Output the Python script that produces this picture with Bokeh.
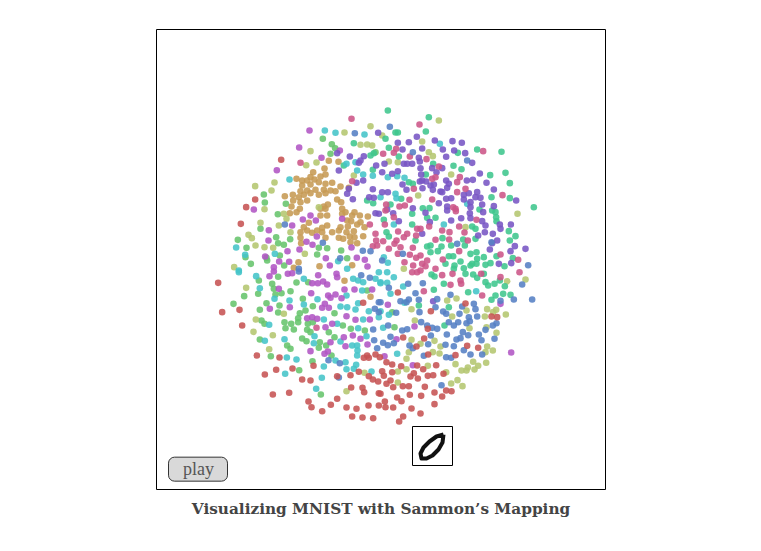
from bokeh.plotting import figure
from bokeh.models import Range1d
from bokeh.core.properties import value
from bokeh.embed import file_html
from bokeh.resources import INLINE

# Embedding values per digit class.
# Units are thirds of a pixel; each panel (nw, ne, sw, se) is 510 units wide.
red_nw = [(212,178),(134,297),(107,320),(91,370)]
red_sw = [(23,37),(35,125),(87,118),(95,165),(139,255),(207,261),(163,312),(197,298),(246,294),(309,286),(275,327),(300,330),(187,372),(236,367),(294,393),(303,410),(335,422),(361,403),(380,385),(408,411),(438,415),(474,405),(505,405),(425,438),(456,441),(488,443),(422,351),(456,352),(461,365),(445,304),(420,314),(380,317),(475,317),(487,327),(503,333),(505,368),(458,97),(470,255),(460,262),(475,262),(495,252),(508,260)]
red_se = [(52,66),(255,99),(151,122),(333,138),(350,140),(142,175),(68,201),(131,204),(108,228),(260,226),(293,232),(143,252),(225,254),(18,275),(35,282),(62,287),(110,285),(128,296),(167,284),(5,302),(10,316),(35,305),(100,308),(90,318),(112,324),(142,316),(158,314),(189,310),(30,330),(18,340),(38,350),(67,347),(85,347),(133,349),(197,360),(213,362),(162,366),(185,378),(122,376),(88,373),(50,381),(63,392),(13,393),(15,410),(38,411),(93,414),(162,401),(120,429),(68,438),(56,453),(0,370)]

tan_nw = [(355,181),(384,184),(342,204),(308,215),(345,222),(258,235),(275,240),(300,230),(330,228),(290,240),(312,237),(365,247),(275,255),(300,252),(325,245),(345,250),(390,258),(270,272),(290,270),(315,268),(340,268),(360,270),(375,272),(223,287),(247,283),(265,290),(280,283),(300,278),(325,283),(345,278),(415,262),(248,300),(290,300),(270,305),(340,318),(352,312),(380,297),(392,305),(243,318),(238,338),(268,325),(258,335),(330,325),(345,325),(395,325),(405,335),(425,345),(432,335),(448,345),(472,348),(350,345),(330,345),(395,340),(410,360),(422,362),(450,365),(390,380),(412,378),(440,372),(462,380),(350,375),(335,382),(320,390),(295,367),(280,380),(290,390),(270,395),(365,395),(385,390),(408,395),(430,392),(305,397),(335,395),(270,412),(272,428),(458,407),(418,408),(432,410),(420,425),(440,428),(345,412),(385,412),(398,415),(264,485),(250,502),(327,497),(425,494)]
tan_sw = [(402,31),(480,79)]

olive_nw = [(480,77),(402,96),(300,152),(287,194),(318,186),(134,257),(192,246),(183,270),(162,326),(150,367),(205,375),(228,355),(220,340),(325,320),(114,403),(124,413),(71,500),(135,435),(162,440),(188,442),(283,460),(240,395),(430,225),(450,133),(470,132),(485,135)]
olive_ne = [(175,60),(125,123),(145,155),(157,167),(25,183),(52,185),(212,222),(113,285),(411,340),(255,380),(5,105),(70,505)]
olive_sw = [(107,52),(136,147),(129,184),(187,194),(176,236),(220,130),(408,362),(462,307)]
olive_se = [(380,32),(435,27),(228,84),(200,90),(93,116),(320,116),(347,118),(338,125),(258,120),(376,132),(313,138),(215,138),(103,150),(267,173),(318,170),(348,187),(93,208),(120,220),(162,211),(180,228),(85,245),(157,245),(177,249),(78,265),(320,228),(337,240),(315,245),(278,274),(317,277),(225,281),(293,286),(282,297),(243,300),(262,291),(258,300),(78,296),(142,286),(197,305),(52,303),(52,336),(231,329),(212,339),(246,347)]

green_nw = [(337,115),(364,131),(374,143),(360,160),(160,282),(163,306),(226,310),(202,341),(150,385),(197,410),(203,428),(220,433),(239,416),(82,418),(108,442),(105,470),(121,490),(170,480),(168,472),(208,465),(221,495),(320,462),(325,442),(350,443),(392,450),(410,473),(495,155)]
green_sw = [(69,100),(101,77),(143,70),(145,30),(185,40),(190,55),(195,72),(213,68),(240,62),(168,98),(148,118),(207,105),(203,126),(277,85),(307,107),(285,120),(268,128),(263,143),(263,155),(222,155),(242,160),(225,173),(250,177),(153,150),(162,160),(292,160),(290,178),(300,185),(307,155),(372,128),(397,165),(355,185),(372,200),(421,175),(463,180),(275,204),(288,212),(328,215),(347,225),(325,232),(148,207),(230,225),(240,235),(181,257),(363,255),(306,272),(266,299),(331,372),(470,60),(258,36),(293,35),(203,19)]
green_se = [(35,125),(42,170)]

teal_nw = [(430,128),(490,158),(480,165),(400,195),(470,300),(488,308),(487,208)]
teal_ne = [(22,30),(145,50),(136,93),(45,96),(52,96),(15,115),(25,142),(290,147),(363,154),(232,157),(55,168),(158,190),(219,196),(243,206),(329,224),(375,217),(388,248),(136,222),(333,290),(388,293),(460,320),(297,327),(127,323),(147,323),(95,340),(165,352),(335,330),(345,335),(347,350),(348,362),(95,372),(385,392),(405,407),(388,420),(186,413),(212,435),(248,417),(285,415),(253,435),(140,438),(150,435),(183,438),(172,452),(150,455),(288,455),(270,460),(205,467),(218,467),(310,470),(290,475),(348,467),(397,473),(195,490),(240,483),(222,495),(275,490),(288,490),(315,493),(330,488),(372,497),(220,505),(250,503),(270,495),(18,395),(25,408),(105,420),(30,312),(10,358),(140,352),(62,295),(97,250),(85,245),(285,385),(275,378)]
teal_se = [(153,12),(162,18),(255,10),(278,12),(310,10),(290,22),(315,35),(323,45),(342,40),(358,30),(373,47),(345,75),(333,88),(368,70),(390,73),(263,65),(160,58),(190,40),(115,105),(205,110),(192,165)]

cyan_nw = [(343,90),(375,97),(462,102),(237,237),(408,190),(435,185),(77,441),(104,463),(193,460),(440,210),(458,222),(487,226),(383,482),(410,505),(85,510)]
cyan_ne = [(178,130),(22,230),(50,227),(72,232),(45,280),(48,293),(260,310),(40,372),(190,372),(22,487),(10,470),(0,290)]
cyan_sw = [(85,5),(137,17),(148,53),(192,85),(237,90),(280,102),(321,86),(176,163),(340,147),(380,160),(312,197),(163,211),(222,206),(310,218),(390,213),(425,225),(440,225),(441,240),(440,255),(229,261),(258,267),(340,288),(375,270),(405,275),(437,283),(408,296),(430,295),(483,303),(224,310),(334,322),(317,355),(390,108),(410,110),(435,117),(443,98),(475,122),(458,147),(443,173),(468,197),(505,140),(428,25),(443,30),(458,35),(455,60),(495,25),(510,35),(280,25),(505,5),(408,75)]
cyan_se = [(20,5),(40,20),(0,38),(20,37),(68,48),(30,70),(72,97),(0,122),(25,133),(8,172),(50,250),(287,62)]

blue_nw = [(433,98),(223,372),(337,427),(389,473),(457,451),(480,452),(265,505)]
blue_ne = [(28,79),(97,155),(260,180),(230,430),(443,494),(5,480),(333,425),(67,460)]
blue_sw = [(452,14),(478,22),(265,3),(505,95),(493,115),(505,125),(488,177),(491,209),(500,233),(354,269),(388,278),(385,321)]
blue_se = [(25,52),(83,40),(127,38),(105,68),(60,92),(78,95),(85,87),(115,88),(170,86),(210,73),(425,42),(455,87),(400,87),(360,91),(280,100),(285,116),(245,108),(165,110),(47,127),(117,125),(0,95),(188,123),(197,130),(237,130),(290,138),(205,155),(220,165),(233,155),(258,158),(268,152),(265,140),(337,165),(348,158),(315,178),(295,192),(263,194),(247,185),(199,192),(155,172),(170,175),(122,155),(140,165),(23,165),(65,180),(80,176),(30,199),(151,195),(8,217),(22,224),(40,218),(143,221),(87,225),(97,233),(195,223),(220,227),(240,203),(228,207),(303,209),(342,205),(250,239),(270,252),(305,252),(130,256),(197,260),(212,262),(183,344)]

purple_nw = [(503,97),(380,158),(418,168),(460,167),(450,180),(445,187),(497,195),(385,210),(438,247),(458,240),(487,266),(415,265),(410,280),(427,296),(476,290),(490,292),(495,338),(505,340)]
purple_ne = [(109,109),(163,120),(216,122),(244,127),(85,125),(52,127),(66,147),(125,144),(187,147),(221,150),(254,158),(197,169),(275,187),(70,190),(80,190),(95,190),(115,172),(118,183),(120,203),(155,203),(185,203),(168,215),(298,219),(122,222),(5,215),(35,220),(52,212),(66,252),(78,268),(125,240),(137,243),(118,243),(197,240),(205,250),(259,240),(277,238),(318,247),(340,267),(126,263),(150,255),(157,268),(180,273),(200,262),(212,293),(197,295),(175,308),(250,283),(265,278),(290,275),(250,297),(285,290),(300,292),(270,305),(305,312),(340,317),(407,300),(5,275),(22,275),(97,323),(135,337),(200,318),(200,330),(270,320),(268,338),(270,353),(242,353),(212,360),(308,335),(315,375),(305,362),(358,372),(360,385),(391,372),(313,395),(293,405),(337,400),(350,420),(335,428),(328,447),(403,437),(435,445),(390,452),(355,490),(392,488),(125,400),(148,365),(55,362),(38,338),(20,327),(12,190),(160,252),(185,275)]
purple_se = [(158,92)]

magenta_nw = [(297,90),(266,141),(199,209),(130,327),(388,150),(333,172),(175,389),(174,420),(245,375),(300,345),(277,357),(316,360),(319,408),(395,355),(288,424),(306,433),(231,452),(267,447),(423,441),(164,468),(206,483),(236,484),(190,500),(358,495),(439,472),(463,478),(471,498),(346,473)]
magenta_sw = [(177,17),(190,3),(232,10),(245,8),(323,14),(378,10),(380,20),(305,38),(322,38),(338,33),(350,42),(402,57),(432,57),(485,57),(353,75),(375,72),(360,82),(393,83),(302,68),(178,115),(238,110),(343,100),(335,112),(355,112),(408,137),(290,143),(305,140),(320,145),(435,148),(478,147),(365,160),(345,170),(400,200),(427,195),(450,205),(405,227),(471,222),(360,215),(300,242),(352,243),(342,250),(205,55)]
magenta_se = [(22,103),(360,100),(392,246),(102,168),(48,206),(12,257),(97,284)]

pink_nw = [(423,55),(270,187),(425,242),(478,372),(495,400),(497,420),(487,437),(500,435)]
pink_ne = [(117,72),(308,152),(47,145),(40,157),(8,160),(88,168),(138,176),(175,198),(155,235),(230,245),(238,230),(255,265),(230,275),(366,284),(87,298),(100,265),(155,297),(165,230),(57,318),(73,315),(40,350),(17,312),(15,330),(218,320),(226,332),(288,358),(110,385),(146,378),(236,378),(207,395),(252,396),(165,418),(206,417),(262,420),(236,452),(53,393),(70,410),(80,400),(107,405),(120,385),(13,372),(48,420),(42,430),(8,422),(25,445),(60,440),(97,442),(52,460),(88,463),(120,465),(107,472),(72,485),(98,495),(125,490),(135,497),(140,480),(165,505),(187,477),(360,462),(413,478),(225,325),(185,390)]
pink_sw = [(318,172)]
pink_se = [(185,14),(216,10),(210,43),(240,30),(242,40),(305,75),(130,62),(417,5),(302,10),(360,20),(95,5),(110,5),(120,0)]

colors = ["#c65353", "#c69a53", "#b4c66f", "#66c46c", "#3fc68d", "#44c4c8",
          "#5580c4", "#7755c4", "#b055c4", "#cc5588"]
title_text = "Visualizing MNIST with Sammon\u2019s Mapping"
button_text = "play"
digit_x = [699, 678, 657, 639, 630, 633, 648, 666, 684, 696, 699]
digit_y = [1002, 1008, 1023, 1041, 1059, 1074, 1074, 1065, 1047, 1026, 1002]


def shift(points, dx, dy):
    return [p[0] + dx for p in points], [p[1] + dy for p in points]


def panels(nw=(), ne=(), sw=(), se=()):
    xs, ys = [], []
    for pts, dx, dy in ((nw, 0, 0), (ne, 510, 0), (sw, 0, 510), (se, 510, 510)):
        a, b = shift(pts, dx, dy)
        xs += a
        ys += b
    return xs, ys


classes = [
    panels(nw=tan_nw, sw=tan_sw),
    panels(nw=green_nw, sw=green_sw, se=green_se),
    panels(nw=olive_nw, ne=olive_ne, sw=olive_sw, se=olive_se),
    panels(nw=teal_nw, ne=teal_ne, se=teal_se),
    panels(nw=cyan_nw, ne=cyan_ne, sw=cyan_sw, se=cyan_se),
    panels(nw=magenta_nw, sw=magenta_sw, se=magenta_se),
    panels(nw=purple_nw, ne=purple_ne, se=purple_se),
    panels(nw=pink_nw, ne=pink_ne, sw=pink_sw, se=pink_se),
    panels(nw=blue_nw, ne=blue_ne, sw=blue_sw, se=blue_se),
    panels(nw=red_nw, sw=red_sw, se=red_se),
]
class_colors = [colors[i] for i in (1, 3, 2, 4, 5, 8, 7, 9, 6, 0)]

p = figure(width=745, height=535, output_backend="svg", toolbar_location=None,
           x_range=Range1d(-630, 1605), y_range=Range1d(1305, -300),
           min_border=0, outline_line_color=None, x_axis_location=None, y_axis_location=None)
p.grid.visible = False

p.quad(left=[-162], right=[1185], top=[-213], bottom=[1167], fill_color="white",
       line_color="black", line_width=1)

for (xs, ys), c in zip(classes, class_colors):
    p.scatter(xs, ys, size=6.6, fill_color=c, fill_alpha=0.88, line_color=None)

# sample digit
p.quad(left=[606], right=[726], top=[978], bottom=[1095], fill_color="white",
       line_color="black", line_width=1)
p.line(digit_x, digit_y, line_color="#111111", line_width=4, line_join="round")

# play button
p.quad(left=[-126], right=[51], top=[1070], bottom=[1142], fill_color="#d9d9d9",
       line_color="#333333", line_width=1, border_radius=6)
p.text([-36], [1106], text=[button_text], text_font=value("Liberation Serif"),
       text_font_size="18px", text_color="#555555", text_align="center", text_baseline="middle")

p.text([511.5], [1224], text=[title_text], text_font=value("DejaVu Serif"),
       text_font_style="bold", text_font_size="15.3px", text_color="#444444",
       text_align="center", text_baseline="middle")

open("out.html", "w").write(file_html(p, INLINE))
